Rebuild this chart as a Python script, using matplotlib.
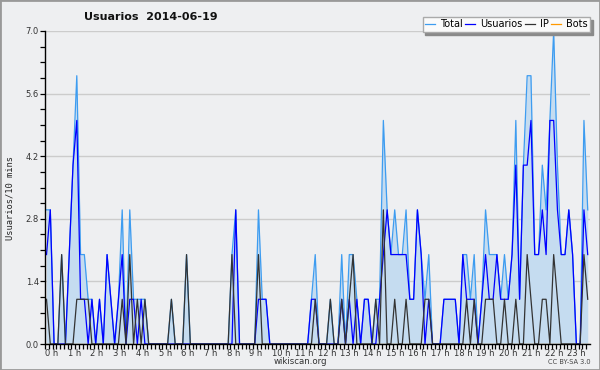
## Imports required libraries.
import numpy as np
import matplotlib.pyplot as plt
from matplotlib.patches import Rectangle
from matplotlib.transforms import ScaledTranslation


## Editors per 10-minute slot over the day (144 slots).
total = [3,3,0,0,2,0,2,4,6,2,2,1,
         1,0,1,0,2,1,0,1,3,0,3,1,
         1,1,1,0,0,0,0,0,0,1,0,0,
         0,2,0,0,0,0,0,0,0,0,0,0,
         0,2,3,0,0,0,0,0,3,1,1,0,
         0,0,0,0,0,0,0,0,0,0,1,2,
         0,0,0,1,0,0,2,0,2,2,1,0,
         1,1,0,1,1,5,3,2,3,2,2,3,
         1,1,3,2,1,2,0,0,0,1,1,1,
         1,0,2,2,1,2,0,1,3,2,2,2,
         1,2,1,2,5,1,4,6,6,2,2,4,
         3,5,7,4,2,2,3,2,0,0,5,3]

usuarios = [2,3,0,0,0,0,2,4,5,1,1,0,
            1,0,1,0,2,1,0,1,2,0,1,1,
            0,1,0,0,0,0,0,0,0,0,0,0,
            0,0,0,0,0,0,0,0,0,0,0,0,
            0,0,3,0,0,0,0,0,1,1,1,0,
            0,0,0,0,0,0,0,0,0,0,1,1,
            0,0,0,0,0,0,1,0,1,0,1,0,
            1,1,0,0,1,2,3,2,2,2,2,2,
            1,1,3,2,0,1,0,0,0,1,1,1,
            1,0,2,1,1,1,0,1,2,1,1,2,
            1,1,1,2,4,1,4,4,5,2,2,3,
            2,5,5,3,2,2,3,2,0,0,3,2]

ip = [1,0,0,0,2,0,0,0,1,1,1,1,
      0,0,0,0,0,0,0,0,1,0,2,0,
      1,0,1,0,0,0,0,0,0,1,0,0,
      0,2,0,0,0,0,0,0,0,0,0,0,
      0,2,0,0,0,0,0,0,2,0,0,0,
      0,0,0,0,0,0,0,0,0,0,0,1,
      0,0,0,1,0,0,1,0,1,2,0,0,
      0,0,0,1,0,3,0,0,1,0,0,1,
      0,0,0,0,1,1,0,0,0,0,0,0,
      0,0,0,1,0,1,0,0,1,1,1,0,
      0,1,0,0,1,0,0,2,1,0,0,1,
      1,0,2,1,0,0,0,0,0,0,2,1]

bots = [0]*144

hour_labels = ['%d h' % h for h in range(24)]
y_ticks     = [0.0, 1.4, 2.8, 4.2, 5.6, 7.0]


## Slot positions in hours (middle of each 10-minute slot, roughly).
slots = (np.arange(len(total)) + 0.4) / 6.0

bg = '#eeeff1'
fig = plt.figure(figsize=(6, 3.7), dpi=100, facecolor=bg)
ax = fig.add_axes([45/600, 26/370, 545/600, 313/370], facecolor=bg)

ax.fill_between(slots, 0, total, color='#c5dcf0', lw=0, zorder=1)
ax.plot(slots, total,    color='#3d9cf0', lw=0.9, label='Total',    zorder=3)
ax.plot(slots, usuarios, color='#0000ff', lw=0.9, label='Usuarios', zorder=4)
ax.plot(slots, ip,       color='#333333', lw=0.9, label='IP',       zorder=5)
ax.plot(slots, bots,     color='#ff9900', lw=0.9, label='Bots',     zorder=2)

ax.set_xlim(0, 24)
ax.set_ylim(0, 7.0)

## Axis looks.
for s in ['top', 'right']:
    ax.spines[s].set_visible(False)
for s in ['left', 'bottom']:
    ax.spines[s].set_color('black')
    ax.spines[s].set_linewidth(1.0)
    ax.spines[s].set_zorder(6)

ax.set_yticks(y_ticks)
ax.set_yticklabels(['%.1f' % v for v in y_ticks])
ax.set_yticks(np.arange(0, 7.01, 0.35), minor=True)
ax.set_xticks(range(24))
ax.set_xticklabels(hour_labels, ha='left')
ax.set_xticks(np.arange(0, 24, 1/6.0), minor=True)
off = ScaledTranslation(-4/100, 0, fig.dpi_scale_trans)
for lab in ax.get_xticklabels():
    lab.set_transform(lab.get_transform() + off)

ax.tick_params(axis='both', which='both', direction='out', length=3.5, width=0.9, color='black')
ax.tick_params(axis='x', which='major', labelsize=6, labelcolor='#333333', pad=0)
ax.tick_params(axis='y', which='major', labelsize=6, labelcolor='#333333', pad=1)
ax.yaxis.grid(True, which='major', color='#cccccc', lw=1.0, zorder=0)
ax.set_axisbelow(True)

## Texts.
fig.text(151/600, 1 - 17/370, 'Usuarios  2014-06-19', ha='center', va='center',
         fontsize=8, fontweight='bold', color='#111111')
fig.text(10/600, 1 - 198/370, 'Usuarios/10 mins', rotation=90, ha='center', va='center',
         fontsize=6.3, family='DejaVu Sans Mono', color='#222222')
fig.text(300/600, 1 - 362/370, 'wikiscan.org', ha='center', va='center',
         fontsize=6.2, color='#333333')
fig.text(591/600, 1 - 362/370, 'CC BY-SA 3.0', ha='right', va='center',
         fontsize=4.8, color='#444444')

## Legend on top right, with shadow.
leg = fig.legend(loc='upper right', bbox_to_anchor=(590/600, 1 - 17/370), ncol=4,
                 fontsize=7, frameon=True, fancybox=False,
                 shadow={'color': '#8a8a8a', 'alpha': 1.0},
                 handlelength=1.0, handletextpad=0.5, columnspacing=0.3,
                 borderpad=0.25, borderaxespad=0)
leg.get_frame().set_edgecolor('#aaaaaa')
leg.get_frame().set_facecolor('#fafafa')
leg.get_frame().set_linewidth(1.0)

## Grey border round the whole picture.
fig.patches.append(Rectangle((0, 0), 1, 1, transform=fig.transFigure, fill=False,
                             edgecolor='#999999', lw=2))

plt.savefig('out.png', dpi=100, facecolor=bg)
